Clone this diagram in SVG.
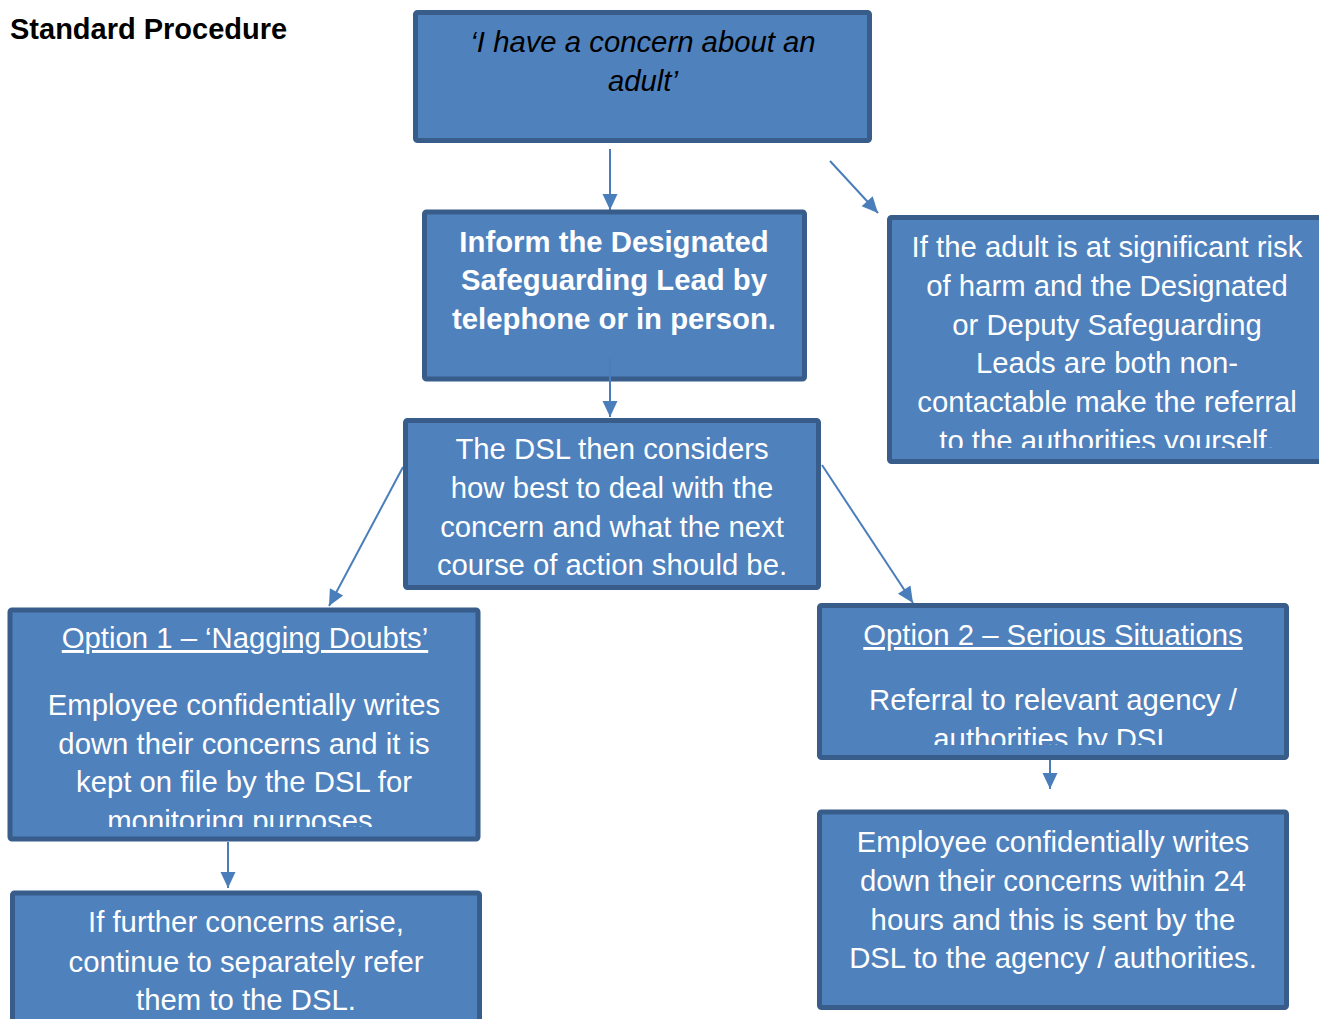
<svg xmlns="http://www.w3.org/2000/svg" width="1319" height="1019" viewBox="0 0 1319 1019">
<style>
.box{fill:#4F81BD;stroke:#385D8A;stroke-width:5}
.t{font-family:"Liberation Sans",Arial,sans-serif;font-size:29.3px;fill:#FFFFFF;text-anchor:middle}
.b{font-weight:bold}
.i{font-style:italic;fill:#000000}
.u{text-decoration:underline}
.title{font-family:"Liberation Sans",Arial,sans-serif;font-size:29px;font-weight:bold;fill:#000000}
.c{stroke:#4A7EBB;stroke-width:2;fill:none}
</style>
<defs>
<marker id="ah" markerUnits="userSpaceOnUse" markerWidth="18" markerHeight="18" viewBox="0 0 18 18" refX="17" refY="9" orient="auto">
<path d="M1,1.5 L17,9 L1,16.5 Z" fill="#4A7EBB"/>
</marker>
<clipPath id="clipR"><rect x="890" y="220" width="429" height="228"/></clipPath>
<clipPath id="clipO1"><rect x="12" y="612" width="464" height="215"/></clipPath>
<clipPath id="clipO2"><rect x="822" y="608" width="462" height="137"/></clipPath>
</defs>
<rect width="1319" height="1019" fill="#FFFFFF"/>
<text class="title" x="10" y="39">Standard Procedure</text>
<g id="connectors">
<line class="c" x1="610" y1="149" x2="610" y2="210" marker-end="url(#ah)"/>
<line class="c" x1="830" y1="161" x2="878" y2="213" marker-end="url(#ah)"/>
<line class="c" x1="610" y1="358" x2="610" y2="417" marker-end="url(#ah)"/>
<line class="c" x1="403" y1="467" x2="329" y2="606" marker-end="url(#ah)"/>
<line class="c" x1="822" y1="465" x2="913" y2="603" marker-end="url(#ah)"/>
<line class="c" x1="228" y1="842" x2="228" y2="888" marker-end="url(#ah)"/>
<line class="c" x1="1050" y1="760" x2="1050" y2="789" marker-end="url(#ah)"/>
</g>
<g id="n-concern">
<rect class="box" x="415.5" y="12.5" width="454" height="128" rx="2"/>
<text class="t i" x="643" y="52">‘I have a concern about an</text>
<text class="t i" x="643" y="91">adult’</text>
</g>
<g id="n-inform">
<rect class="box" x="424.5" y="212" width="380" height="167" rx="2"/>
<text class="t b" x="614" y="252">Inform the Designated</text>
<text class="t b" x="614" y="290">Safeguarding Lead by</text>
<text class="t b" x="614" y="329">telephone or in person.</text>
</g>
<line class="c" x1="610" y1="358" x2="610" y2="382"/>
<g id="n-risk">
<rect class="box" x="889.5" y="217.5" width="440" height="244" rx="2"/>
<g clip-path="url(#clipR)">
<text class="t" x="1107" y="257">If the adult is at significant risk</text>
<text class="t" x="1107" y="296">of harm and the Designated</text>
<text class="t" x="1107" y="335">or Deputy Safeguarding</text>
<text class="t" x="1107" y="373">Leads are both non-</text>
<text class="t" x="1107" y="412">contactable make the referral</text>
<text class="t" x="1107" y="451">to the authorities yourself.</text>
</g>
</g>
<g id="n-dsl">
<rect class="box" x="405.5" y="420.5" width="413" height="167" rx="2"/>
<text class="t" x="612" y="459">The DSL then considers</text>
<text class="t" x="612" y="498">how best to deal with the</text>
<text class="t" x="612" y="537">concern and what the next</text>
<text class="t" x="612" y="575">course of action should be.</text>
</g>
<g id="n-option1">
<rect class="box" x="10" y="610" width="468" height="229" rx="2"/>
<g clip-path="url(#clipO1)">
<text class="t u" x="245" y="648">Option 1 – ‘Nagging Doubts’</text>
<text class="t" x="244" y="715">Employee confidentially writes</text>
<text class="t" x="244" y="754">down their concerns and it is</text>
<text class="t" x="244" y="792">kept on file by the DSL for</text>
<text class="t" x="244" y="831">monitoring purposes.</text>
</g>
</g>
<g id="n-option2">
<rect class="box" x="819.5" y="605.5" width="467" height="152" rx="2"/>
<g clip-path="url(#clipO2)">
<text class="t u" x="1053" y="645">Option 2 – Serious Situations</text>
<text class="t" x="1053" y="710">Referral to relevant agency /</text>
<text class="t" x="1053" y="749">authorities by DSL</text>
</g>
</g>
<g id="n-employee">
<rect class="box" x="819.5" y="812" width="467" height="195.5" rx="2"/>
<text class="t" x="1053" y="852">Employee confidentially writes</text>
<text class="t" x="1053" y="891">down their concerns within 24</text>
<text class="t" x="1053" y="930">hours and this is sent by the</text>
<text class="t" x="1053" y="968">DSL to the agency / authorities.</text>
</g>
<g id="n-further">
<rect class="box" x="12.5" y="893" width="467" height="140" rx="2"/>
<text class="t" x="246" y="932">If further concerns arise,</text>
<text class="t" x="246" y="972">continue to separately refer</text>
<text class="t" x="246" y="1010">them to the DSL.</text>
</g>
</svg>
